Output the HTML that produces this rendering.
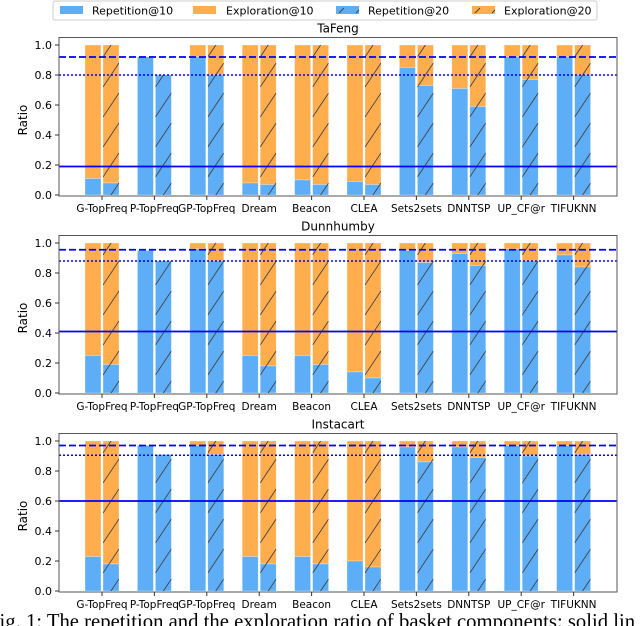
<!DOCTYPE html>
<html><head><meta charset="utf-8"><style>
html,body{margin:0;padding:0;background:#fff;width:640px;height:626px;overflow:hidden}
svg{display:block}
text{font-family:"DejaVu Sans","Liberation Sans",sans-serif}
</style></head><body>
<svg id="chart" width="640" height="626" viewBox="0 0 640 626" xmlns="http://www.w3.org/2000/svg">
<g>
<rect x="53" y="1" width="544" height="19" rx="2" fill="#fff" stroke="#ccc"/>
<g><rect x="60" y="6" width="23" height="8" fill="#5dadf7"/><text x="92" y="14.5" font-size="11">Repetition@10</text></g>
<g><rect x="193" y="6" width="23" height="8" fill="#ffad4d"/><text x="226" y="14.5" font-size="11">Exploration@10</text></g>
<g><rect x="336" y="6" width="23" height="8" fill="#5dadf7"/><line x1="339" y1="13" x2="344" y2="8" stroke="#444"/><line x1="356" y1="13" x2="359" y2="10" stroke="#444"/><text x="368" y="14.5" font-size="11">Repetition@20</text></g>
<g><rect x="472" y="6" width="23" height="8" fill="#ffad4d"/><line x1="475" y1="13" x2="480" y2="8" stroke="#444"/><line x1="492" y1="13" x2="495" y2="10" stroke="#444"/><text x="504" y="14.5" font-size="11">Exploration@20</text></g>
</g>
<text x="0" y="628" font-size="20.7" style="font-family:'Liberation Serif',serif" transform="translate(-12,0)">Fig. 1: The repetition and the exploration ratio of basket components: solid lin</text>
</svg>
<script>
const categories=["G-TopFreq","P-TopFreq","GP-TopFreq","Dream","Beacon","CLEA","Sets2sets","DNNTSP","UP_CF@r","TIFUKNN"];
const datasets=["TaFeng","Dunnhumby","Instacart"];
const tafengRep10=[0.11,0.92,0.92,0.08,0.10,0.09,0.85,0.71,0.92,0.92];
const tafengRep20=[0.08,0.80,0.80,0.07,0.07,0.07,0.73,0.59,0.77,0.80];
const dunnRep10=[0.25,0.95,0.96,0.25,0.25,0.14,0.95,0.93,0.96,0.92];
const dunnRep20=[0.19,0.88,0.88,0.18,0.19,0.10,0.87,0.85,0.88,0.84];
const instaRep10=[0.23,0.97,0.97,0.23,0.23,0.20,0.96,0.96,0.97,0.97];
const instaRep20=[0.18,0.91,0.91,0.18,0.18,0.16,0.86,0.89,0.90,0.91];
const hasExplore=[1,0,1,1,1,1,1,1,1,1];
const dashedRefs=[0.92,0.955,0.97];
const dottedRefs=[0.80,0.88,0.905];
const solidRefs=[0.19,0.41,0.60];
const yTicks=[0,0.2,0.4,0.6,0.8,1.0];
const tickLabels=["0.0","0.2","0.4","0.6","0.8","1.0"];

const NS="http://www.w3.org/2000/svg";
const svg=document.getElementById('chart');
function mk(tag,attrs,parent){const e=document.createElementNS(NS,tag);for(const k in attrs)e.setAttribute(k,attrs[k]);(parent||svg).appendChild(e);return e;}
const L=59,R=617,x0=102,step=52.4,bw=16;
const baseYs=[195,393,591];
const rep10s=[tafengRep10,dunnRep10,instaRep10];
const rep20s=[tafengRep20,dunnRep20,instaRep20];
const BLUE="#5dadf7",ORANGE="#ffad4d";
let clipId=0;
function xC(i){return x0+i*step;}
for(let p=0;p<3;p++){
  const y0=baseYs[p];
  const y=v=>y0-v*150;
  const g=mk('g',{});
  
  
  const t=mk('text',{x:338,y:y(1.05)-5,'font-size':12,'text-anchor':'middle'},g);
  t.textContent=datasets[p];
  
  
  for(let i=0;i<categories.length;i++){
    const c=xC(i);
    const r10=rep10s[p][i],r20=rep20s[p][i];
    const bars=[[c-bw-1,r10,false],[c+1,r20,true]];
    bars.forEach(([bx,rv,hatch],k)=>{
      const top=hasExplore[i]?1:rv;
      if(hasExplore[i]){
        const eb=mk('rect',{x:bx,y:y(1),width:bw,height:y(rv)-y(1),fill:ORANGE,stroke:'#fff','stroke-width':0.6,'stroke-opacity':0.5},g);
        
        
      }
      const rb=mk('rect',{x:bx,y:y(rv),width:bw,height:y(0)-y(rv),fill:BLUE,stroke:'#fff','stroke-width':0.6,'stroke-opacity':0.5},g);
      
      
      if(hatch){
        const id='cl'+(clipId++);
        const cp=mk('clipPath',{id:id},g);
        mk('rect',{x:bx,y:y(top),width:bw,height:y(0)-y(top)},cp);
        const hg=mk('g',{'clip-path':'url(#'+id+')'},g);
        
        
        for(let yy=y0+12;yy>y(top)-30;yy-=30){
          mk('line',{x1:bx,y1:yy,x2:bx+bw,y2:yy-24,stroke:'#444','stroke-width':0.9},hg);
        }
      }
    });
    const lb=mk('text',{x:c,y:y0+17,'font-size':10.5,'text-anchor':'middle'},g);
    lb.textContent=categories[i];
    
    
  }
  const l1=mk('line',{x1:L,x2:R,y1:y(dashedRefs[p]),y2:y(dashedRefs[p]),stroke:'#0000ff','stroke-width':1.8,'stroke-dasharray':'7,3'},g);
  
  
  const l2=mk('line',{x1:L,x2:R,y1:y(dottedRefs[p]),y2:y(dottedRefs[p]),stroke:'#0000ff','stroke-width':1.6,'stroke-dasharray':'2,2'},g);
  
  
  const l3=mk('line',{x1:L,x2:R,y1:y(solidRefs[p]),y2:y(solidRefs[p]),stroke:'#0000ff','stroke-width':1.8},g);
  
  
  const box=mk('rect',{x:L,y:y(1.05),width:R-L,height:y(0)-y(1.05)+1,fill:'none',stroke:'#555','stroke-width':1},g);
  
  
  for(let j=0;j<yTicks.length;j++){
    const yy=y(yTicks[j]);
    mk('line',{x1:L-4,x2:L,y1:yy,y2:yy,stroke:'#333'},g);
    const tl=mk('text',{x:L-7,y:yy+4,'font-size':11,'text-anchor':'end'},g);
    tl.textContent=tickLabels[j];
    
    
  }
  for(let i=0;i<categories.length;i++){mk('line',{x1:xC(i),x2:xC(i),y1:y0+1,y2:y0+5,stroke:'#333'},g);}
  const yt=mk('text',{x:0,y:0,'font-size':12,'text-anchor':'middle',transform:'translate(27,'+(y(0.5))+') rotate(-90)'},g);
  yt.textContent='Ratio';
  
  
}
</script>
</body></html>
